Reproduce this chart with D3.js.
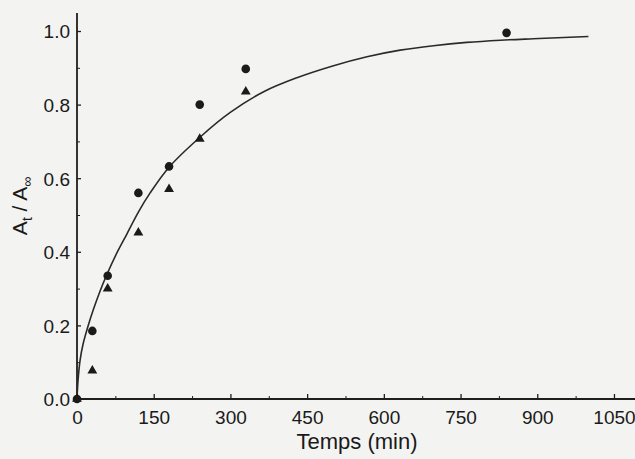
<!DOCTYPE html>
<html>
<head>
<meta charset="utf-8">
<script src="https://cdn.jsdelivr.net/npm/d3@7"></script>
<style>
  html, body { margin: 0; padding: 0; background: #f3f3f1; }
  svg { display: block; }
  text { font-family: "Liberation Sans", Arial, sans-serif; fill: #1a1a1a; }
</style>
</head>
<body>
<svg id="chart" width="635" height="459"></svg>
<script>
// ---- data ----
const circleTimes  = [0, 30, 60, 120, 180, 240, 330, 840];
const circleValues = [0, 0.185, 0.335, 0.56, 0.632, 0.80, 0.897, 0.995];

const triangleTimes  = [0, 30, 60, 120, 180, 240, 330];
const triangleValues = [0, 0.077, 0.30, 0.452, 0.57, 0.707, 0.835];

// fitted curve
const curveTimes  = [0, 2, 6, 12, 22, 32, 45, 58, 78, 97, 120, 143, 180, 241, 299, 365, 430, 500, 567, 632, 697, 762, 828, 892, 1000];
const curveValues = [0, 0.05, 0.105, 0.150, 0.200, 0.243, 0.293, 0.337, 0.397, 0.447, 0.508, 0.560, 0.630, 0.712, 0.778, 0.835, 0.873, 0.905, 0.930, 0.948, 0.960, 0.969, 0.975, 0.979, 0.985];

const xTicks = [0, 150, 300, 450, 600, 750, 900, 1050];
const xMinorTicks = [75, 225, 375, 525, 675, 825, 975];
const yTicks = [0.0, 0.2, 0.4, 0.6, 0.8, 1.0];
const yMinorTicks = [0.1, 0.3, 0.5, 0.7, 0.9];

const xTitle = "Temps (min)";

// ---- drawing ----
const svg = d3.select("#chart");
const ink = "#1e1e1e";

const x = d3.scaleLinear().domain([0, 1100]).range([77, 77 + 1100 * 0.5114]);
const y = d3.scaleLinear().domain([0, 1]).range([399, 31]);

// minor ticks
const gxMinor = svg.append("g").attr("transform", `translate(0,${y(0)})`)
  .call(d3.axisTop(x).tickValues(xMinorTicks).tickSize(3).tickFormat(""));
gxMinor.select(".domain").remove();
gxMinor.selectAll("line").attr("stroke", ink).attr("stroke-width", 1);

const gyMinor = svg.append("g").attr("transform", `translate(${x(0)},0)`)
  .call(d3.axisRight(y).tickValues(yMinorTicks).tickSize(3).tickFormat(""));
gyMinor.select(".domain").remove();
gyMinor.selectAll("line").attr("stroke", ink).attr("stroke-width", 1);

// major x axis
const gx = svg.append("g").attr("transform", `translate(0,${y(0)})`)
  .call(d3.axisTop(x).tickValues(xTicks).tickSize(5).tickFormat(d3.format("d")));
gx.select(".domain").remove();
gx.selectAll("line").attr("stroke", ink).attr("stroke-width", 1.3);
gx.selectAll("text")
  .attr("y", 12).attr("dy", "0.71em")
  .style("font-size", "19px");

// major y axis
const gy = svg.append("g").attr("transform", `translate(${x(0)},0)`)
  .call(d3.axisRight(y).tickValues(yTicks).tickSize(4).tickFormat(d3.format(".1f")));
gy.select(".domain").remove();
gy.selectAll("line").attr("stroke", ink).attr("stroke-width", 1.3);
gy.selectAll("text")
  .attr("x", -7).attr("text-anchor", "end").attr("dy", "0.36em")
  .style("font-size", "19px");

// axis lines
svg.append("line")
  .attr("x1", x(0)).attr("x2", x(0))
  .attr("y1", y(0)).attr("y2", y(1.049))
  .attr("stroke", ink).attr("stroke-width", 1.8);
svg.append("line")
  .attr("x1", x(0)).attr("x2", x(1100))
  .attr("y1", y(0)).attr("y2", y(0))
  .attr("stroke", ink).attr("stroke-width", 1.8);

// curve
const curveData = curveTimes.map((t, i) => [t, curveValues[i]]);
svg.append("path")
  .datum(curveData)
  .attr("fill", "none")
  .attr("stroke", "#2a2a2a")
  .attr("stroke-width", 1.6)
  .attr("d", d3.line().x(d => x(d[0])).y(d => y(d[1])).curve(d3.curveCatmullRom.alpha(0.5)));

// circles
svg.append("g").selectAll("circle")
  .data(circleTimes.map((t, i) => [t, circleValues[i]]))
  .join("circle")
  .attr("cx", d => x(d[0]))
  .attr("cy", d => y(d[1]))
  .attr("r", 4.3)
  .attr("fill", "#1a1a1a");

// triangles
svg.append("g").selectAll("path")
  .data(triangleTimes.map((t, i) => [t, triangleValues[i]]))
  .join("path")
  .attr("transform", d => `translate(${x(d[0])},${y(d[1])})`)
  .attr("d", d3.symbol().type(d3.symbolTriangle).size(42))
  .attr("fill", "#1a1a1a");

// axis titles
svg.append("text")
  .attr("x", 357).attr("y", 449)
  .attr("text-anchor", "middle")
  .style("font-size", "22px")
  .text(xTitle);

const yl = svg.append("text")
  .attr("transform", "translate(27,206) rotate(-90)")
  .attr("text-anchor", "middle")
  .style("font-size", "21px");
yl.append("tspan").text("A");
yl.append("tspan").attr("dy", 5).style("font-size", "14px").text("t");
yl.append("tspan").attr("dy", -5).text(" / A");
yl.append("tspan").attr("dy", 5).style("font-size", "14px").text("∞");
</script>
</body>
</html>
